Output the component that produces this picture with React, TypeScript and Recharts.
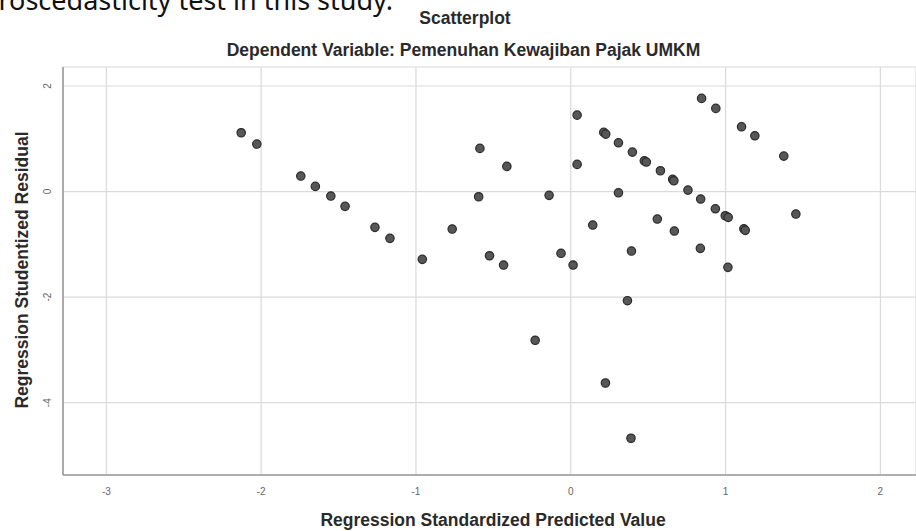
import React from "react";
import { ScatterChart, Scatter, XAxis, YAxis, CartesianGrid } from "recharts";

const predicted: number[] = [
  -2.129, -2.028, -1.744, -1.65, -1.55, -1.458, -1.265, -1.168, -0.959, -0.766,
  -0.587, -0.413, -0.595, -0.525, -0.434, -0.23, -0.14, -0.063, 0.015, 0.041,
  0.041, 0.142, 0.224, 0.213, 0.226, 0.308, 0.308, 0.366, 0.398, 0.392,
  0.389, 0.475, 0.488, 0.559, 0.579, 0.658, 0.666, 0.669, 0.757, 0.839,
  0.837, 0.845, 0.937, 0.934, 0.998, 1.017, 1.015, 1.103, 1.118, 1.127,
  1.189, 1.376, 1.454,
];
const residual: number[] = [
  1.114, 0.9, 0.294, 0.098, -0.085, -0.28, -0.678, -0.886, -1.284, -0.71,
  0.818, 0.477, -0.098, -1.216, -1.392, -2.818, -0.072, -1.17, -1.392, 1.449,
  0.515, -0.634, -3.627, 1.121, 1.089, 0.924, -0.023, -2.068, 0.748, -1.127,
  -4.674, 0.583, 0.559, -0.521, 0.394, 0.231, 0.205, -0.748, 0.028, -0.142,
  -1.076, 1.765, 1.576, -0.326, -0.458, -0.489, -1.436, 1.227, -0.705, -0.735,
  1.057, 0.672, -0.426,
];
const xTicks: number[] = [-3, -2, -1, 0, 1, 2];
const yTicks: number[] = [-4, -2, 0, 2];

const chartTitle = "Scatterplot";
const chartSubtitle = "Dependent Variable: Pemenuhan Kewajiban Pajak UMKM";
const xLabel = "Regression Standardized Predicted Value";
const yLabel = "Regression Studentized Residual";
const pageText = "heteroscedasticity test in this study.";

const points = predicted.map((x, i) => ({ x, y: residual[i] }));

const FONT = "'Liberation Sans', Arial, sans-serif";

const Dot = (props: any) => {
  const { cx, cy } = props;
  if (cx == null || cy == null) return null;
  return <circle cx={cx} cy={cy} r={4.2} fill="#575757" stroke="#2b2b2b" strokeWidth={1.2} />;
};

const XTick = (props: any) => {
  const { x, y, payload } = props;
  return (
    <text x={x} y={y + 12} textAnchor="middle" fontSize={10} fill="#666" fontFamily={FONT}>
      {payload.value}
    </text>
  );
};

const YTick = (props: any) => {
  const { x, y, payload } = props;
  const tx = x - 4;
  return (
    <text
      x={tx}
      y={y}
      textAnchor="middle"
      fontSize={10}
      fill="#666"
      fontFamily={FONT}
      transform={`rotate(-90 ${tx} ${y})`}
    >
      {payload.value}
    </text>
  );
};

const labelStyle: React.CSSProperties = {
  position: "absolute",
  textAlign: "center",
  fontSize: 17.5,
  lineHeight: "20px",
  fontWeight: "bold",
  color: "#2a2a2a",
  whiteSpace: "nowrap",
};

export default function App() {
  return (
    <div
      style={{
        position: "absolute",
        left: 0,
        top: 0,
        width: 916,
        height: 531,
        overflow: "hidden",
        background: "#fff",
        fontFamily: FONT,
      }}
    >
      <div
        style={{
          position: "absolute",
          right: 916 - 393,
          top: -14.5,
          fontSize: 27,
          lineHeight: "27px",
          whiteSpace: "nowrap",
          fontFamily: "'Noto Sans', sans-serif",
          color: "#111",
        }}
      >
        {pageText}
      </div>
      <ScatterChart
        width={916}
        height={531}
        margin={{ top: 67, right: 0, bottom: 0, left: 0 }}
      >
        <CartesianGrid stroke="#dadada" strokeWidth={1.2} />
        <XAxis
          type="number"
          dataKey="x"
          domain={[-3.28, 2.23]}
          ticks={xTicks}
          allowDataOverflow
          height={56}
          tick={<XTick />}
          tickLine={false}
          axisLine={{ stroke: "#9a9a9a", strokeWidth: 1.6 }}
        />
        <YAxis
          type="number"
          dataKey="y"
          domain={[-5.37, 2.36]}
          ticks={yTicks}
          allowDataOverflow
          width={63}
          tick={<YTick />}
          tickLine={false}
          axisLine={{ stroke: "#9a9a9a", strokeWidth: 1.6 }}
        />
        <Scatter data={points} shape={<Dot />} isAnimationActive={false} />
      </ScatterChart>
      <div style={{ ...labelStyle, left: 0, width: 930, top: 8 }}>{chartTitle}</div>
      <div style={{ ...labelStyle, left: 0, width: 927, top: 39.7 }}>{chartSubtitle}</div>
      <div style={{ ...labelStyle, left: 0, width: 986, top: 509.7 }}>{xLabel}</div>
      <div
        style={{
          ...labelStyle,
          left: 22 - 200,
          top: 270 - 10,
          width: 400,
          transform: "rotate(-90deg)",
          transformOrigin: "200px 10px",
        }}
      >
        {yLabel}
      </div>
    </div>
  );
}
